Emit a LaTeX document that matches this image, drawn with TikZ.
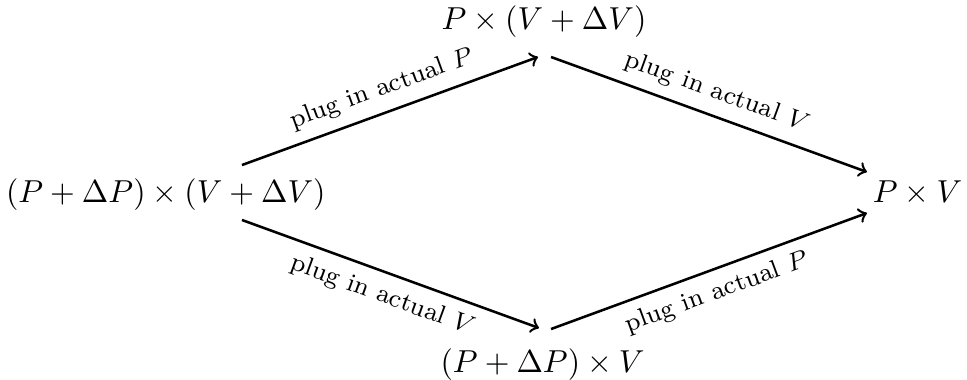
\documentclass[tikz,border=0pt]{standalone}
\usetikzlibrary{calc}
\tikzset{
  obj/.style={anchor=base, inner sep=0pt},
  arr/.style={->, thick},
  lbl/.style={font=\footnotesize, sloped, midway}
}
\begin{document}
\begin{tikzpicture}
\useasboundingbox (0,0) rectangle (10.703,4.206);
\node[obj] (L) at (1.835,1.964) {$(P+\Delta P)\times(V+\Delta V)$};
\node[obj] (T) at (6.021,3.879) {$P\times(V+\Delta V)$};
\node[obj] (B) at (6.005,0.088) {$(P+\Delta P)\times V$};
\node[obj] (R) at (10.155,1.964) {$P\times V$};
\draw[arr] ([shift={(0.843,0.415)}]L.base) -- node[lbl, above] {plug in actual $P$} ([shift={(-0.066,-0.304)}]T.base);
\draw[arr] ([shift={(0.078,-0.304)}]T.base) -- node[lbl, above] {plug in actual $V$} ([shift={(-0.559,0.338)}]R.base);
\draw[arr] ([shift={(0.843,-0.193)}]L.base) -- node[lbl, below] {plug in actual $V$} ([shift={(-0.039,0.487)}]B.base);
\draw[arr] ([shift={(0.094,0.476)}]B.base) -- node[lbl, below] {plug in actual $P$} ([shift={(-0.559,-0.116)}]R.base);
\end{tikzpicture}
\end{document}
